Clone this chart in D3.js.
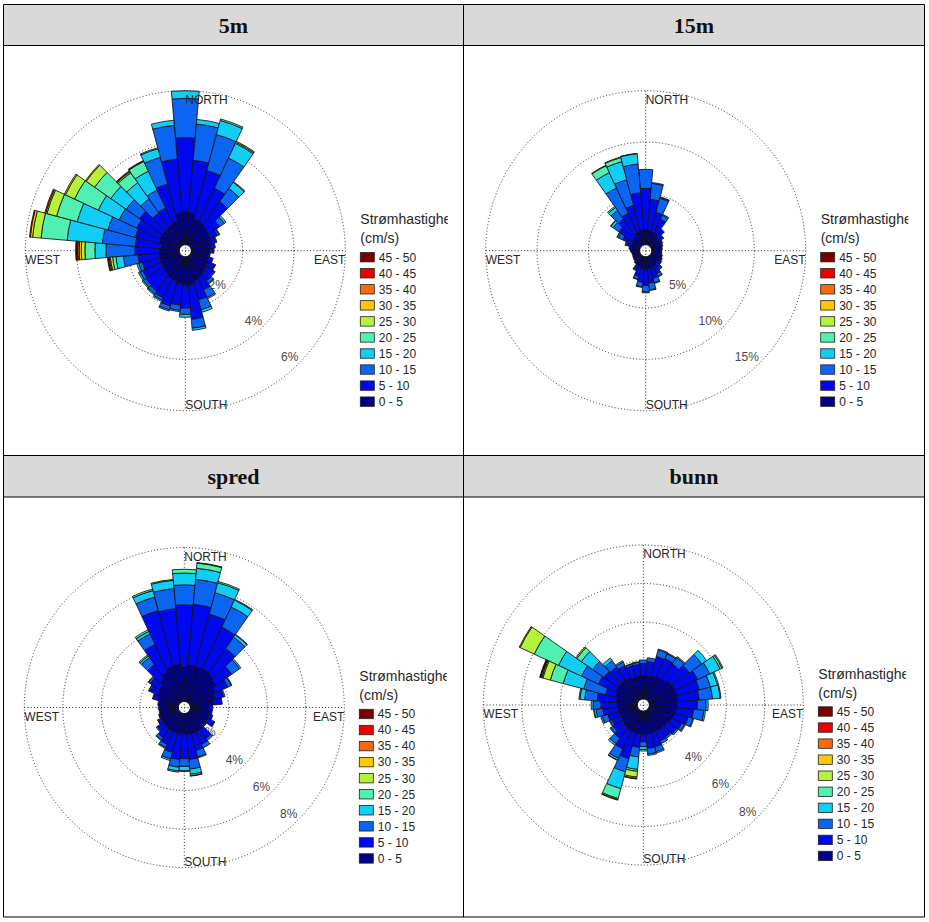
<!DOCTYPE html>
<html><head><meta charset="utf-8">
<script src="https://cdn.jsdelivr.net/npm/d3@7"></script>
<style>body{margin:0;background:#fff} svg{display:block}</style>
</head><body>
<svg id="c" width="929" height="922"></svg>
<script>
// ---------------- DATA ----------------
const directions = [0,10,20,30,40,50,60,70,80,90,100,110,120,130,140,150,160,170,
                    180,190,200,210,220,230,240,250,260,270,280,290,300,310,320,330,340,350];
const speedClasses = ["0 - 5","5 - 10","10 - 15","15 - 20","20 - 25","25 - 30","30 - 35","35 - 40","40 - 45","45 - 50"];
const classColors = ["#000088","#0008f2","#0a66f2","#10cef6","#4ff0b2","#b4f23c","#ffc800","#f86a10","#ee0000","#7a0000"];
const panelTitles = ["5m","15m","spred","bunn"];
const cardinalLabels = ["NORTH","EAST","SOUTH","WEST"];
const legendTitle = ["Strømhastighet","(cm/s)"];
const ticks5m = [2,4,6];
const ticks15m = [5,10,15];
const ticksSpred = [2,4,6,8];
const ticksBunn = [2,4,6,8];

// frequency (%) per direction, per speed class (0-5, 5-10, ... 45-50)
const freq5m = [
 [1.3,2.87,1.53,0.3],[1.25,2.05,1.42,0.18],[1.05,1.95,1.45,0.57,0.06],[1.0,1.45,1.3,0.63,0.05,0.04],
 [0.95,1.15,0.62,0.3,0.03],[0.9,0.5,0.22,0.08],[0.85,0.3,0.07,0.03],[0.8,0.2,0.04],
 [0.75,0.19],[0.7,0.15,0.03],[0.65,0.09],[0.7,0.19],
 [0.75,0.3,0.02],[0.8,0.35,0.04],[0.85,0.35,0.12,0.03],[0.9,0.55,0.33,0.05],
 [1.0,0.75,0.4,0.1],[1.1,1.35,0.35,0.08],[1.1,0.9,0.25,0.11],[1.05,0.85,0.2,0.05],
 [1.0,1.0,0.15,0.05],[0.95,0.85,0.1,0.05],[0.9,0.8,0.12,0.05],[0.85,0.8,0.12,0.05],
 [0.8,0.8,0.12,0.06],[0.8,0.7,0.15,0.07],[0.77,0.85,0.57,0.29,0.13,0.09,0.04,0.04,0.03],
 [0.75,0.98,1.13,0.43,0.39,0.14,0.08,0.06,0.04,0.04],
 [0.7,1.02,1.29,1.38,1.02,0.33,0.09,0.03],[0.82,0.96,1.11,1.24,0.83,0.39,0.05,0.04],
 [0.85,1.0,0.76,0.9,1.02,0.39,0.05],[0.85,1.09,0.64,0.73,0.77,0.4,0.04],
 [0.85,0.71,0.67,0.77,0.47,0.05,0.03,0.02],[0.9,0.7,0.77,0.81,0.42,0.02,0.02],
 [0.95,1.5,1.08,0.35,0.04],[1.25,2.1,1.32,0.2]
];
const freq15m = [
 [1.43,4.06,1.85],[1.4,3.03,1.57,0.08],[1.35,1.93,1.42,0.1,0.04],[1.3,1.5,0.45,0.08],
 [1.2,0.7,0.1],[1.1,0.4,0.05],[1.0,0.25],[0.95,0.2],[0.9,0.15],[0.85,0.1],[0.85,0.15],[0.9,0.2],
 [0.95,0.25],[1.0,0.26,0.04],[1.05,0.45,0.15,0.03],[1.1,0.8,0.3,0.05],
 [1.15,1.05,0.45,0.07],[1.2,1.4,0.65,0.06],[1.2,1.6,0.65,0.07],[1.15,1.35,0.45,0.05],
 [1.1,0.9,0.3,0.03],[1.0,0.45,0.13],[0.9,0.1],[0.8,0.05],[0.75,0.05],[0.7,0.05],[0.7,0.08],
 [0.75,0.1,0.05],[0.8,0.2,0.05],[0.85,0.45,0.15,0.05],[0.9,1.0,0.45,0.13,0.04],
 [1.0,1.6,0.7,0.25,0.05],[1.1,2.1,1.0,0.35,0.13],[1.36,2.07,2.73,1.64,0.75,0.05],
 [1.4,2.57,2.6,1.83,0.4,0.06],[1.43,3.65,2.81,1.01,0.03]
];
const freqSpred = [
 [1.8,3.22,1.04,0.61,0.2],[1.9,3.17,1.3,0.58,0.27,0.03],[1.9,2.81,1.15,0.54,0.07],[1.9,2.39,1.16,0.4,0.04],
 [1.85,1.58,0.72,0.15,0.03],[1.7,1.0,0.5,0.08],[1.5,0.7,0.18,0.04],[1.35,0.45,0.08],
 [1.2,0.47],[1.0,0.16],[1.0,0.15],[1.0,0.22],[1.05,0.35,0.04],[1.0,0.1],
 [1.1,0.55,0.12],[1.1,0.7,0.2],[1.1,0.9,0.35,0.05],[1.1,1.3,0.5,0.27,0.08,0.02],
 [1.05,1.3,0.4,0.23,0.03],[1.05,1.35,0.4,0.2,0.06],[1.05,1.05,0.35,0.09],[1.05,0.75,0.18,0.05],
 [1.05,0.55,0.15,0.03],[1.05,0.35,0.07],[1.0,0.2,0.02],[1.0,0.07],[0.95,0.05],[0.95,0.09],
 [1.0,0.07],[1.1,0.28,0.02],[1.2,0.45,0.07,0.02],[1.3,0.55,0.1,0.02],
 [1.5,0.9,0.45,0.1,0.07],[1.7,1.6,0.6,0.15,0.09],[1.9,3.0,0.73,0.35,0.08],[1.94,2.9,1.05,0.43,0.05]
];
const freqBunn = [
 [1.2,0.65,0.18],[1.2,0.75,0.2],[1.25,1.05,0.35,0.05],[1.3,1.05,0.27,0.05],
 [1.35,0.95,0.4,0.06],[1.45,1.15,0.8,0.31],[1.5,1.3,0.7,0.6,0.1,0.06],[1.5,1.2,0.6,0.38,0.06],
 [1.5,1.1,0.7,0.4,0.04],[1.45,1.05,0.45,0.11],[1.4,0.9,0.55,0.08],[1.35,0.75,0.25,0.05],
 [1.3,0.6,0.15,0.05],[1.25,0.55,0.1],[1.2,0.5,0.1],[1.2,0.55,0.15],
 [1.2,0.75,0.25,0.07],[1.2,0.75,0.3,0.07],[1.2,0.4,0.25,0.15,0.08],
 [1.2,0.7,0.5,0.65,0.1,0.3,0.07,0.03],[1.2,1.37,0.71,0.91,0.53,0.06,0.03],
 [1.15,1.05,0.55,0.1,0.02],[1.1,0.7,0.35,0.1],[1.05,0.55,0.15,0.05],[1.0,0.5,0.1,0.04],
 [1.0,0.6,0.3,0.07],[1.0,0.8,0.35,0.1,0.03],[1.05,0.85,0.4,0.1],[1.1,1.0,0.65,0.25,0.05],
 [1.2,0.53,1.17,1.1,0.69,0.4,0.06,0.05,0.03,0.03],[1.28,0.98,0.97,1.32,1.39,0.81,0.05],
 [1.3,0.88,0.72,0.72,0.28,0.06],[1.3,0.8,0.4,0.17],[1.25,0.7,0.2,0.07],[1.2,0.6,0.1,0.02],[1.2,0.6,0.12,0.02]
];

// ---------------- LAYOUT ----------------
const svg = d3.select("#c");
const SANS = "'Liberation Sans', Arial, sans-serif";
const R0 = 6, R1 = 160;

const cells = [
  {x0:3.5, x1:463.5, hy0:4.5, hy1:45.5, y1:455.5, cx:185.3, cy:250.7, data:freq5m, ticks:ticks5m},
  {x0:463.5, x1:924.5, hy0:4.5, hy1:45.5, y1:455.5, cx:645.7, cy:250.7, data:freq15m, ticks:ticks15m},
  {x0:3.5, x1:463.5, hy0:455.5, hy1:497, y1:917, cx:184.3, cy:707.5, data:freqSpred, ticks:ticksSpred},
  {x0:463.5, x1:924.5, hy0:455.5, hy1:497, y1:917, cx:643.3, cy:705, data:freqBunn, ticks:ticksBunn}
];

const defs = svg.append("defs");

cells.forEach((c, idx) => {
  // header
  svg.append("rect").attr("x", c.x0).attr("y", c.hy0).attr("width", c.x1 - c.x0).attr("height", c.hy1 - c.hy0)
     .attr("fill", "#d9d9d9");
  svg.append("text").attr("x", (c.x0 + c.x1) / 2).attr("y", (c.hy0 + c.hy1) / 2 + 7.5)
     .attr("text-anchor", "middle").attr("font-family", "'Liberation Serif', 'Times New Roman', serif")
     .attr("font-weight", "bold").attr("font-size", 22).attr("fill", "#111").text(panelTitles[idx]);

  // clip for figure image
  const clipId = "clip" + idx;
  defs.append("clipPath").attr("id", clipId).append("rect")
     .attr("x", c.x0 + 1).attr("y", c.hy1 + 1).attr("width", c.cx + 262.5 - c.x0 - 1).attr("height", c.y1 - c.hy1 - 2);
  const g = svg.append("g").attr("clip-path", `url(#${clipId})`);
  const rose = g.append("g").attr("transform", `translate(${c.cx},${c.cy})`);

  const maxT = d3.max(c.ticks);
  const r = d3.scaleLinear().domain([0, maxT]).range([R0, R1]);

  // grid circles
  rose.selectAll("circle.grid").data(c.ticks).join("circle")
    .attr("r", d => r(d)).attr("fill", "none").attr("stroke", "#2a2a2a")
    .attr("stroke-width", 1).attr("stroke-dasharray", "1,2.2");
  // axes
  rose.append("line").attr("x1", -R1).attr("x2", R1).attr("y1", 0).attr("y2", 0)
    .attr("stroke", "#2a2a2a").attr("stroke-dasharray", "1,2.2");
  rose.append("line").attr("y1", -R1).attr("y2", R1).attr("x1", 0).attr("x2", 0)
    .attr("stroke", "#2a2a2a").attr("stroke-dasharray", "1,2.2");
  // tick labels (under bars)
  rose.selectAll("text.tick").data(c.ticks).join("text")
    .attr("x", d => r(d) * Math.SQRT1_2).attr("y", d => r(d) * Math.SQRT1_2 - 2.5)
    .attr("text-anchor", "end").attr("font-family", SANS).attr("font-size", 12).attr("fill", "#4a4a4a")
    .text(d => d + "%");

  // stacked bars
  const rows = directions.map((dir, i) => {
    const o = {dir};
    speedClasses.forEach((k, j) => { o[k] = c.data[i][j] || 0; });
    return o;
  });
  const series = d3.stack().keys(speedClasses)(rows);
  const arc = d3.arc();
  const half = Math.PI / 180 * 5;
  series.forEach((s, j) => {
    rose.append("g").selectAll("path").data(s.filter(d => d[1] - d[0] > 0)).join("path")
      .attr("d", d => arc({
        innerRadius: r(d[0]), outerRadius: r(d[1]),
        startAngle: d.data.dir * Math.PI / 180 - half,
        endAngle: d.data.dir * Math.PI / 180 + half
      }))
      .attr("fill", classColors[j]).attr("stroke", "#111").attr("stroke-width", 0.85)
      .attr("stroke-linejoin", "round");
  });

  // cardinal labels
  const lab = rose.append("g").attr("font-family", SANS).attr("font-size", 12).attr("fill", "#262626");
  lab.append("text").attr("x", 0).attr("y", -R1 + 13.3).text(cardinalLabels[0]);
  lab.append("text").attr("x", R1).attr("y", 13.3).attr("text-anchor", "end").text(cardinalLabels[1]);
  lab.append("text").attr("x", 0).attr("y", R1 - 2).text(cardinalLabels[2]);
  lab.append("text").attr("x", -R1).attr("y", 13.3).text(cardinalLabels[3]);

  // legend
  const lx = c.cx + 175;
  const lg = g.append("g").attr("font-family", SANS).attr("fill", "#262626");
  lg.append("text").attr("x", lx).attr("y", c.cy - 26.5).attr("font-size", 14).text(legendTitle[0]);
  lg.append("text").attr("x", lx).attr("y", c.cy - 7.5).attr("font-size", 14).text(legendTitle[1]);
  const order = speedClasses.map((s, j) => j).reverse();
  order.forEach((j, k) => {
    const ey = c.cy + 6.5 + k * 16.05;
    lg.append("rect").attr("x", lx).attr("y", ey - 4.7).attr("width", 14).attr("height", 9.4)
      .attr("fill", classColors[j]).attr("stroke", "#222").attr("stroke-width", 0.8);
    lg.append("text").attr("x", lx + 18.5).attr("y", ey + 4.3).attr("font-size", 12).text(speedClasses[j]);
  });
});

// table lines
const line = (x1, y1, x2, y2) => svg.append("line").attr("x1", x1).attr("y1", y1).attr("x2", x2).attr("y2", y2)
  .attr("stroke", "#000").attr("stroke-width", 1);
line(3.5, 4.5, 924.5, 4.5);
line(3.5, 917, 924.5, 917);
line(3.5, 4.5, 3.5, 917);
line(924.5, 4.5, 924.5, 917);
line(463.5, 4.5, 463.5, 917);
line(3.5, 45.5, 924.5, 45.5);
line(3.5, 455.5, 924.5, 455.5);
line(3.5, 497, 924.5, 497);
</script>
</body></html>
